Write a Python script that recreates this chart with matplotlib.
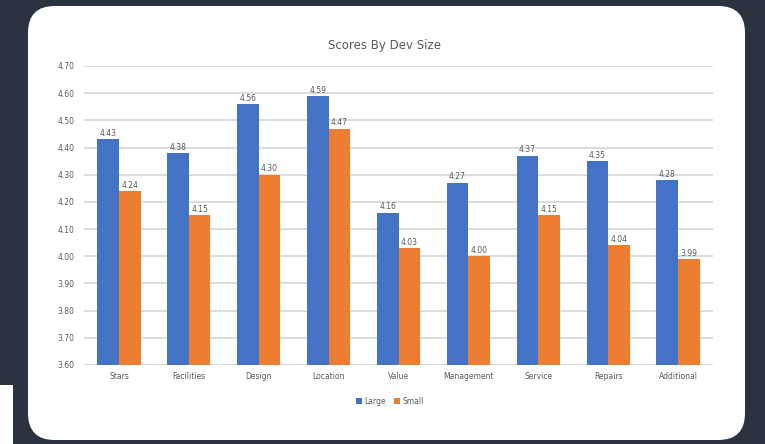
import matplotlib
matplotlib.use("Agg")
import matplotlib.pyplot as plt
from matplotlib.patches import FancyBboxPatch, Rectangle
import numpy as np

# Average scores per category, split by development size
categories = ["Stars", "Facilities", "Design", "Location", "Value",
              "Management", "Service", "Repairs", "Additional"]
large = [4.43, 4.38, 4.56, 4.59, 4.16, 4.27, 4.37, 4.35, 4.28]
small = [4.24, 4.15, 4.30, 4.47, 4.03, 4.00, 4.15, 4.04, 3.99]
yticks = [3.60, 3.70, 3.80, 3.90, 4.00, 4.10, 4.20, 4.30, 4.40, 4.50, 4.60, 4.70]

blue = "#4472C4"
orange = "#ED7D31"
grey_text = "#595959"

fig = plt.figure(figsize=(7.65, 4.44), dpi=100)
fig.patch.set_facecolor("#2b3340")

# white strip peeking out at the lower left
fig.patches.append(Rectangle((0, 0), 13 / 765, 59 / 444, transform=fig.transFigure,
                             facecolor="white", edgecolor="none", zorder=-2))
# rounded white card behind the chart
card = FancyBboxPatch((28 / 765, 4 / 444), 717 / 765, 434 / 444,
                      boxstyle="round,pad=0,rounding_size=0.035",
                      transform=fig.transFigure, facecolor="white",
                      edgecolor="none", zorder=-1, mutation_aspect=765 / 444)
fig.patches.append(card)

ax = fig.add_axes([84 / 765, 1 - 365 / 444, 629 / 765, 299 / 444])
ax.set_facecolor("none")
ax.set_zorder(1)

x = np.arange(len(categories))
w = 0.31
b1 = ax.bar(x - w / 2, large, w, color=blue, label="Large", zorder=3)
b2 = ax.bar(x + w / 2, small, w, color=orange, label="Small", zorder=3)
ax.bar_label(b1, fmt="%.2f", fontsize=5.5, color=grey_text, padding=1)
ax.bar_label(b2, fmt="%.2f", fontsize=5.5, color=grey_text, padding=1)

ax.set_ylim(3.60, 4.70)
ax.set_xlim(-0.5, len(categories) - 0.5)
ax.set_yticks(yticks)
ax.set_yticklabels([f"{v:.2f}" for v in yticks])
ax.set_xticks(x)
ax.set_xticklabels(categories)
ax.tick_params(axis="both", length=0, labelsize=5.5, colors=grey_text)
ax.tick_params(axis="y", pad=7)
ax.tick_params(axis="x", pad=5)
ax.yaxis.grid(True, color="#d9d9d9", linewidth=1.3, zorder=0)
for s in ax.spines.values():
    s.set_visible(False)

fig.text(385 / 765, 1 - 45 / 444, "Scores By Dev Size", ha="center", va="center",
         fontsize=8.5, color=grey_text)

ax.legend(loc="center", bbox_to_anchor=(390 / 765, 1 - 401 / 444),
          bbox_transform=fig.transFigure, ncol=2, frameon=False, fontsize=5.5,
          handlelength=0.8, handleheight=0.8, handletextpad=0.3, columnspacing=1.0,
          labelcolor=grey_text)

fig.savefig("out.png", dpi=100, facecolor=fig.get_facecolor())
